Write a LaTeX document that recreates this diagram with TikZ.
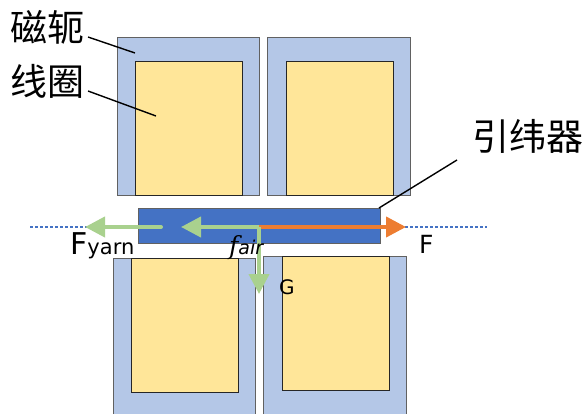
\documentclass[tikz,border=0pt]{standalone}
\usepackage{fontspec}
\setmainfont{DejaVu Sans}
\newfontfamily\cjk{Noto Sans CJK SC}
\newfontfamily\ital{DejaVu Serif}[ItalicFont=* Italic]
\usetikzlibrary{arrows.meta}
\tikzset{
  yoke/.style={draw=black!62,fill=yokeblue,line width=0.9pt},
  coil/.style={draw=black!85,fill=coilyellow,line width=0.9pt},
  shuttle/.style={draw=black!62,fill=shuttleblue,line width=0.9pt},
  leader/.style={draw=black,line width=1.4pt},
  cjklabel/.style={anchor=west,inner sep=0pt,font=\cjk\fontsize{37}{37}\selectfont},
  forcelabel/.style={inner sep=0pt,anchor=base west},
  gforce/.style={draw=forcegreen,line width=4pt,-{Triangle[length=20pt,width=20pt]}},
  oforce/.style={draw=forceorange,line width=4pt,-{Triangle[length=20pt,width=20pt]}},
  axisline/.style={draw=shuttleblue,line width=1.2pt,densely dashed}
}
\definecolor{yokeblue}{HTML}{B4C7E7}
\definecolor{coilyellow}{HTML}{FFE699}
\definecolor{shuttleblue}{HTML}{4472C4}
\definecolor{forcegreen}{HTML}{A9D18E}
\definecolor{forceorange}{HTML}{ED7D31}
\begin{document}
\begin{tikzpicture}[x=1pt,y=-1pt]
\useasboundingbox (0,0) rectangle (583,414);
\clip (0,0) rectangle (583,414);
% axis
\coordinate (axL) at (30,227);
\coordinate (axR) at (487,227);
\path[axisline] (axL) -- (axR);
% upper magnets
\path[yoke] (117,37) rectangle (259,195);
\path[coil] (135.5,61) rectangle (242,195);
\path[yoke] (267.5,37) rectangle (410,195);
\path[coil] (286,61) rectangle (393,195);
% lower magnets
\path[yoke] (113,258) rectangle (255,425);
\path[coil] (131.5,258) rectangle (238,392);
\path[yoke] (263.5,256) rectangle (406,425);
\path[coil] (282,256) rectangle (389,390);
% shuttle
\path[shuttle] (138,208) rectangle (380,243);
% forces
\coordinate (o) at (259,227);
\coordinate (Fyarn0) at (161,227);
\coordinate (Fyarn1) at (85,227);
\coordinate (Fair1) at (181,227);
\coordinate (F1) at (406,227);
\coordinate (G1) at (259,294);
\path[oforce] (o) -- (F1);
\path[gforce] (o) -- (Fair1);
\path[gforce,line cap=round] (Fyarn0) -- (Fyarn1);
\path[gforce] (o) -- (G1);
% leaders
\coordinate (c1) at (88,37);
\coordinate (c2) at (135,53);
\coordinate (c3) at (88,91);
\coordinate (c4) at (156,116);
\coordinate (c5) at (457,160);
\coordinate (c6) at (379,208);
\path[leader] (c1) -- (c2);
\path[leader] (c3) -- (c4);
\path[leader] (c5) -- (c6);
% labels
\node[cjklabel] (yokeLabel) at (10,27) {磁轭};
\node[cjklabel] (coilLabel) at (10,81) {线圈};
\node[cjklabel] (shuttleLabel) at (472,136) {引纬器};
\node[forcelabel] (fyarnLabel) at (70,254) {\fontsize{30}{30}\selectfont F\fontsize{21}{21}\selectfont yarn};
\node[forcelabel] (fairLabel) at (229,254) {{\ital\itshape\fontsize{25}{25}\selectfont f}{\fontsize{19}{19}\selectfont\itshape air}};
\node[forcelabel] (gLabel) at (279,294) {\fontsize{20}{20}\selectfont G};
\node[forcelabel] (fLabel) at (419,253) {\fontsize{25}{25}\selectfont F};
\end{tikzpicture}
\end{document}
